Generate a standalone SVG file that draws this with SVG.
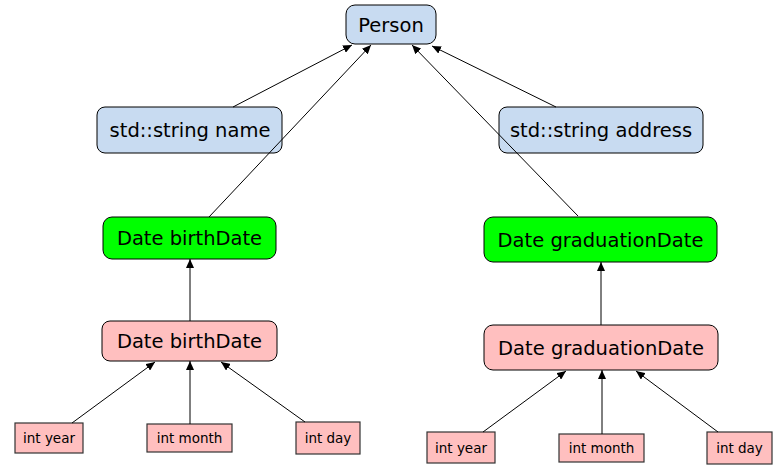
<svg xmlns="http://www.w3.org/2000/svg" width="775" height="470" viewBox="0 0 775 470">
<style>
.blue{fill:#c8dbf1;stroke:#000;stroke-width:1}
.green{fill:#00ff00;stroke:#000;stroke-width:1}
.pink{fill:#ffbfbf;stroke:#000;stroke-width:1}
.small{fill:#ffbfbf;stroke:#333;stroke-width:1.2}
.t{font-family:"DejaVu Sans",sans-serif;font-size:19.5px;text-anchor:middle;fill:#000}
.ts{font-family:"DejaVu Sans",sans-serif;font-size:13.5px;text-anchor:middle;fill:#000}
.e{stroke:#000;stroke-width:1;fill:none;marker-end:url(#arr)}
</style>
<defs>
<marker id="arr" markerUnits="userSpaceOnUse" markerWidth="10" markerHeight="8" refX="9" refY="4" orient="auto" viewBox="0 0 10 8">
<path d="M0,0 L9,4 L0,8 Z" fill="#000"/>
</marker>
</defs>
<g id="person"><rect class="blue" x="346" y="5" width="90" height="39" rx="9"/><text class="t" x="391" y="31.5">Person</text></g>
<g id="name"><rect class="blue" x="97" y="107" width="185" height="46" rx="8"/><text class="t" x="190" y="137">std::string name</text></g>
<g id="address"><rect class="blue" x="499" y="107" width="204" height="46" rx="8"/><text class="t" x="601" y="137">std::string address</text></g>
<g id="birthDate"><rect class="green" x="103" y="217" width="173" height="42" rx="9"/><text class="t" x="189.5" y="245">Date birthDate</text></g>
<g id="graduationDate"><rect class="green" x="484" y="217" width="233" height="45" rx="9"/><text class="t" x="600.5" y="246.5">Date graduationDate</text></g>
<g id="birthDate2"><rect class="pink" x="102" y="321" width="175" height="40" rx="8"/><text class="t" x="189.5" y="348">Date birthDate</text></g>
<g id="graduationDate2"><rect class="pink" x="484" y="325" width="234" height="45" rx="9"/><text class="t" x="601" y="354.5">Date graduationDate</text></g>
<g id="b-year"><rect class="small" x="15" y="423" width="68" height="30"/><text class="ts" x="49" y="443">int year</text></g>
<g id="b-month"><rect class="small" x="147" y="424" width="85" height="28"/><text class="ts" x="189.5" y="443">int month</text></g>
<g id="b-day"><rect class="small" x="296" y="422" width="64" height="32"/><text class="ts" x="328" y="443">int day</text></g>
<g id="g-year"><rect class="small" x="427" y="432" width="68" height="31"/><text class="ts" x="461" y="452.5">int year</text></g>
<g id="g-month"><rect class="small" x="559" y="434" width="85" height="28"/><text class="ts" x="601.5" y="452.5">int month</text></g>
<g id="g-day"><rect class="small" x="707" y="432" width="65" height="32"/><text class="ts" x="739.5" y="452.5">int day</text></g>
<g id="connectors">
<line class="e" x1="233" y1="107" x2="352" y2="45"/>
<line class="e" x1="209" y1="217" x2="371" y2="45"/>
<line class="e" x1="578" y1="216" x2="412" y2="45"/>
<line class="e" x1="556" y1="107" x2="432" y2="46"/>
<line class="e" x1="190" y1="321" x2="190" y2="259"/>
<line class="e" x1="601" y1="325" x2="601" y2="262"/>
<line class="e" x1="72" y1="423" x2="155" y2="362"/>
<line class="e" x1="190" y1="424" x2="190" y2="361"/>
<line class="e" x1="305" y1="422" x2="221" y2="362"/>
<line class="e" x1="483" y1="432" x2="566" y2="371"/>
<line class="e" x1="602" y1="434" x2="602" y2="370"/>
<line class="e" x1="718" y1="432" x2="636" y2="371"/>
</g>
</svg>
